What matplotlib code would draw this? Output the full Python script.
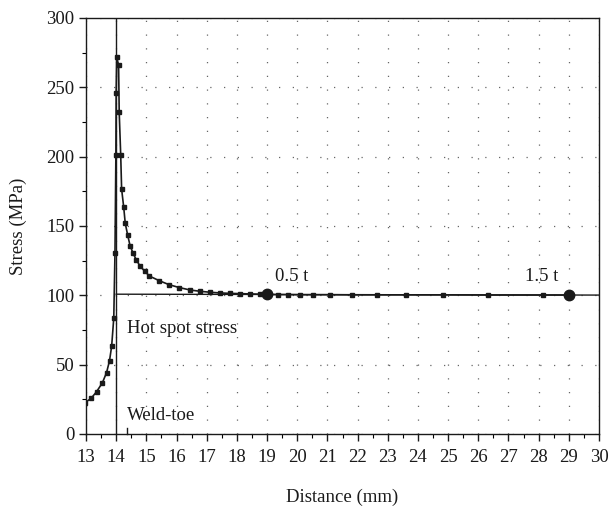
"""Hot spot stress extrapolation along the weld-toe path."""

import matplotlib
matplotlib.use("Agg")
import matplotlib.pyplot as plt
from matplotlib.ticker import MultipleLocator

INK = "#1a1a1a"

# stress along the path (distance in mm, stress in MPa)
distance = [12.97, 13.17, 13.35, 13.54, 13.68, 13.78, 13.85, 13.92, 13.96,
            13.99, 14.00, 14.02, 14.08, 14.10, 14.15, 14.18, 14.25, 14.30,
            14.38, 14.46, 14.56, 14.67, 14.79, 14.94, 15.10, 15.43, 15.76,
            16.09, 16.45, 16.78, 17.11, 17.44, 17.77, 18.10, 18.43, 18.76,
            19.00, 19.37, 19.70, 20.09, 20.53, 21.08, 21.80, 22.63, 23.62,
            24.84, 26.33, 28.15, 29.00]
stress = [22.6, 25.7, 30.5, 36.8, 44.2, 52.9, 63.4, 83.6, 130.7,
          200.9, 245.6, 271.5, 266.0, 232.0, 201.0, 176.6, 163.4, 151.9,
          143.5, 135.8, 130.3, 125.4, 121.1, 117.5, 113.9, 110.5, 107.6,
          105.6, 103.8, 102.9, 102.2, 101.7, 101.4, 101.2, 101.0, 100.8,
          100.6, 100.5, 100.5, 100.4, 100.4, 100.4, 100.3, 100.3, 100.3,
          100.3, 100.2, 100.2, 100.2]

# read-out points at 0.5 t and 1.5 t from the weld toe
ref_x = [19.0, 29.0]
ref_y = [100.6, 100.2]
ref_labels = ["0.5 t", "1.5 t"]

weld_toe_x = 14.0
hot_spot_end = 30.0


def main() -> None:
    plt.rcParams["font.family"] = ["Liberation Serif", "DejaVu Serif"]
    fig = plt.figure(figsize=(6.1, 5.08), dpi=100)
    ax = fig.add_axes([0.141, 0.1457, 0.841, 0.819])

    ax.set_xlim(13, 30)
    ax.set_ylim(0, 300)
    ax.xaxis.set_major_locator(MultipleLocator(1))
    ax.xaxis.set_minor_locator(MultipleLocator(0.5))
    ax.yaxis.set_major_locator(MultipleLocator(50))
    ax.yaxis.set_minor_locator(MultipleLocator(25))
    ax.tick_params(which="major", direction="out", length=5, width=1, labelsize=13.5, colors=INK)
    ax.tick_params(which="minor", direction="out", length=3, width=0.8)
    ax.tick_params(axis="x", pad=6)
    ax.grid(True, which="major", color="#666666", linestyle=(0, (1, 10)), linewidth=0.9)
    for spine in ax.spines.values():
        spine.set_color(INK)
        spine.set_linewidth(1.0)

    # extrapolated hot spot stress line through the two read-out points
    slope = (ref_y[1] - ref_y[0]) / (ref_x[1] - ref_x[0])
    hs_x = [weld_toe_x, hot_spot_end]
    hs_y = [ref_y[0] + slope * (x - ref_x[0]) for x in hs_x]
    ax.plot(hs_x, hs_y, color=INK, linewidth=1.0, zorder=3)

    # weld-toe marker line and its foot tick
    ax.axvline(weld_toe_x, color=INK, linewidth=1.0, zorder=3)
    ax.plot([14.35, 14.35], [0, 4], color=INK, linewidth=1.0, clip_on=False)

    ax.plot(distance, stress, color=INK, linewidth=1.2, marker="s",
            markersize=3, zorder=4)
    ax.plot(ref_x, ref_y, "o", color=INK, markersize=7.5, zorder=5)

    ax.text(19.25, 110, ref_labels[0], fontsize=13.5, color=INK)
    ax.text(27.55, 110, ref_labels[1], fontsize=13.5, color=INK)
    ax.text(14.35, 73, "Hot spot stress", fontsize=13.5, color=INK)
    ax.text(14.35, 10, "Weld-toe", fontsize=13.5, color=INK)

    ax.set_xlabel("Distance (mm)", fontsize=13.5, color=INK, labelpad=16)
    ax.set_ylabel("Stress (MPa)", fontsize=13.5, color=INK, labelpad=14)

    fig.savefig("out.png", dpi=100)
    plt.close(fig)


if __name__ == "__main__":
    main()
